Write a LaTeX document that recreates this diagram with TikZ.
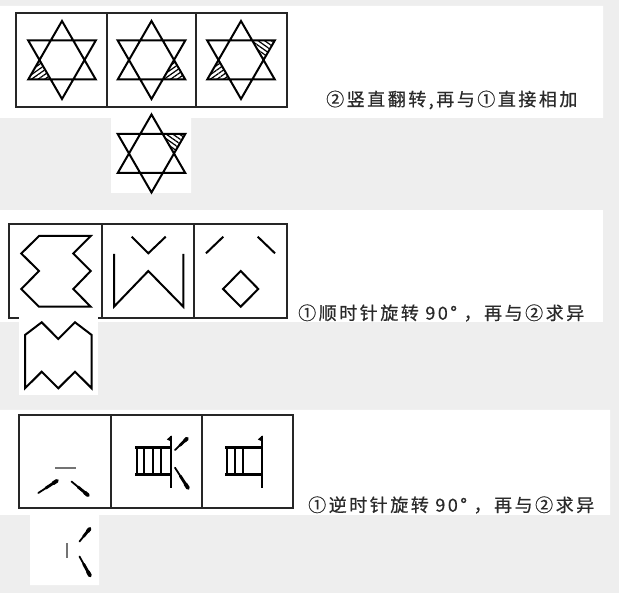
\documentclass[tikz,border=0pt]{standalone}
\usetikzlibrary{calc,patterns.meta}
\usepackage{fontspec}
\newfontfamily\cjk[LetterSpace=14,FakeBold=0.6]{Noto Sans CJK SC}
\definecolor{pagegray}{HTML}{EEEEEE}
\definecolor{inkgray}{HTML}{2A2A2A}
\newcommand\brush[2]{\draw[line cap=round,line width=1.8pt] (#1) -- (#2);
	\draw[line cap=round,line width=2.8pt] ($(#1)!0.4!(#2)$) -- (#2);
	\draw[line cap=round,line width=3.8pt] ($(#1)!0.8!(#2)$) -- (#2);}

\begin{document}
\begin{tikzpicture}[x=1pt,y=-1pt,
	box/.style={line width=2pt,draw=black!85},
	fig/.style={line width=2pt},
	hatch/.style={pattern={Lines[angle=#1,distance=3.8pt,line width=1.2pt]}},
	note/.style={anchor=west,inner sep=0pt,text=inkgray,font=\cjk\fontsize{18}{20}\selectfont}]
	\fill[pagegray] (0,0) rectangle (619,593);
	\useasboundingbox (0,0) rectangle (619,593);
	\fill[white] (0,6) rectangle (603,118) (111,118) rectangle (191,193);
	\fill[white] (0,210) rectangle (603,322);
	\fill[white] (0,410) rectangle (610,515) (30,515) rectangle (99,585);

	% stars
	\draw[box] (16,13) rectangle (287,107) (107,13) -- (107,107) (196,13) -- (196,107);
	\foreach \cx/\cy/\hl in {62/60/{150/35}, 151.5/60/{30/35}, 241/60/{150/35,330/-35}, 151.5/153.5/{330/-35}}
		{
		\begin{scope}[shift={(\cx,\cy)}]
			\foreach \a/\h in \hl
				\fill[hatch=\h] (\a:39) -- (\a+30:22.5) -- (\a-30:22.5) -- cycle;
			\draw[fig] (270:39) -- (30:39) -- (150:39) -- cycle
				(90:39) -- (210:39) -- (330:39) -- cycle;
		\end{scope}
	};
	\node[note] (flip) at (326,100) {②竖直翻转,再与①直接相加};

	% zigzags
	\draw[box] (9.3,224) rectangle (287,318) (102,224) -- (102,318) (194,224) -- (194,318);
	\draw[fig] (39,236) -- (90.7,236) -- (73.3,253.5) -- (90.7,271) -- (73.3,289) -- (90.7,306.7)
		-- (39,306.7) -- (21.3,289) -- (39,271) -- (21.3,253.5) -- cycle;
	\draw[fig] (131.7,236.7) -- (148.3,253.3) -- (165.7,236.7)
		(114,254) -- (114,306.7) -- (148.3,271) -- (183.3,306.7) -- (183.3,254);
	\draw[fig] (206,253.3) -- (223.3,236.7) (257.7,236.7) -- (275,253.3)
		(240.7,271) -- (258.3,289) -- (240.7,306.7) -- (223.1,289) -- cycle;
	\fill[white] (19,314) rectangle (98,395);
	\draw[fig] (25,335) -- (41.7,322.3) -- (58.3,339) -- (75,322.3) -- (91.7,335) -- (91.7,388.3)
		-- (75,371.7) -- (58.3,388.3) -- (41.7,371.7) -- (25,388.3) -- cycle;
	\node[note] (cw) at (298,313) {①顺时针旋转 90° ，再与②求异};

	% strokes
	\draw[box] (19.3,415) rectangle (293.3,508.3) (110.7,415) -- (110.7,508.3) (201.7,415) -- (201.7,508.3);
	\draw[line width=2.3pt,black!55] (55,467.7) -- (76,467.7);
	\brush{38.3,493}{57,480.8}
	\brush{71.5,481.5}{88,495.2}
	\foreach \l/\r/\xs in {135/171.3/{136.7,144.3,152.7,161}, 225/262.3/{226.7,235,243.3}}
		{
		\draw[line width=2.6pt] (\l,447.7) -- (\r,447.7) (\l,474.3) -- (\r,474.3);
		\foreach \x in \xs
			\draw[line width=1.8pt] (\x,447.7) -- (\x,474.3);
		\draw[line width=2pt] (\r,436) -- (\r,488.3);
		\fill (\r,435.5) -- (\r-4.5,439.5) -- (\r,441.5) -- cycle;
	};
	\brush{175,450}{187,438.6}
	\brush{175,467.7}{188,488}
	\draw[line width=2.3pt,black!55] (66.7,543.3) -- (66.7,558.3);
	\brush{79.5,541.5}{89.7,528.8}
	\brush{79.5,556.5}{90,575.5}
	\node[note] (ccw) at (308,505) {①逆时针旋转 90° ，再与②求异};
\end{tikzpicture}
\end{document}
